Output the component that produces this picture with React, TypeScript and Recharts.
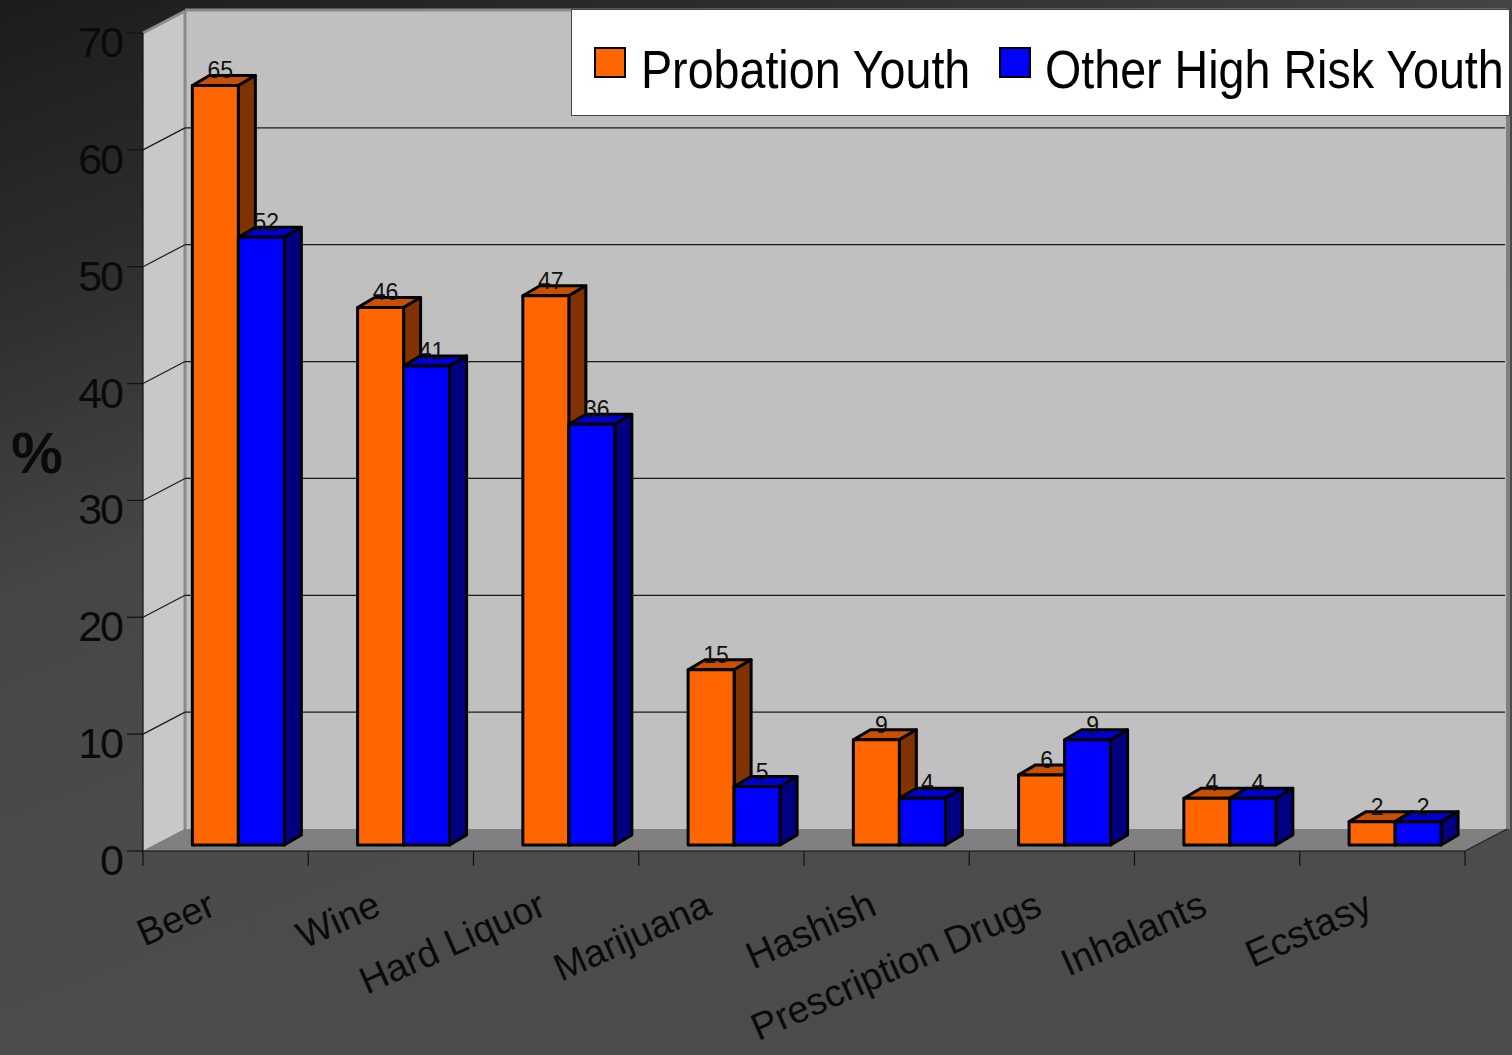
import { BarChart, Bar, XAxis, YAxis, CartesianGrid, LabelList, Label } from "recharts";

const categories = [
  "Beer",
  "Wine",
  "Hard Liquor",
  "Marijuana",
  "Hashish",
  "Prescription Drugs",
  "Inhalants",
  "Ecstasy",
];
const probationYouth = [65, 46, 47, 15, 9, 6, 4, 2];
const otherHighRiskYouth = [52, 41, 36, 5, 4, 9, 4, 2];
const yTicks = [0, 10, 20, 30, 40, 50, 60, 70];
const seriesNames = ["Probation Youth", "Other High Risk Youth"];

const data = categories.map((name, i) => ({
  name,
  probation: probationYouth[i],
  other: otherHighRiskYouth[i],
}));

const W = 1512;
const H = 1055;
const FONT = "'Liberation Sans', Arial, sans-serif";

// 3D look: depth of the walls, where the bars sit in the depth, and bar thickness
const WALL_DX = 42;
const WALL_DY = -22;
const BAR_DX = 13;
const BAR_DY = -6;
const DEPTH_DX = 17;
const DEPTH_DY = -10;

const PLOT_LEFT = 143;
const PLOT_RIGHT = 1465;

function Walls({ x, y, width, height }: any) {
  const b = y + height;
  const r = x + width;
  return (
    <g>
      <polygon
        points={`${x},${y} ${x + WALL_DX},${y + WALL_DY} ${x + WALL_DX},${b + WALL_DY} ${x},${b}`}
        fill="#c8c8c8"
      />
      <rect x={x + WALL_DX} y={y + WALL_DY} width={width} height={height} fill="#c0c0c0" />
      <polygon
        points={`${x},${b} ${x + WALL_DX},${b + WALL_DY} ${r + WALL_DX},${b + WALL_DY} ${r},${b}`}
        fill="#808080"
      />
      <line x1={x + WALL_DX} y1={y + WALL_DY} x2={x + WALL_DX} y2={b + WALL_DY} stroke="#8a8a8a" strokeWidth={3} />
      <line x1={x} y1={y} x2={x + WALL_DX} y2={y + WALL_DY} stroke="#8a8a8a" strokeWidth={3} />
      <line x1={x + WALL_DX} y1={y + WALL_DY - 1} x2={r + WALL_DX} y2={y + WALL_DY - 1} stroke="#8a8a8a" strokeWidth={3} />
      <line x1={r + WALL_DX + 1} y1={y + WALL_DY} x2={r + WALL_DX + 1} y2={b + WALL_DY} stroke="#808080" strokeWidth={4} />
      <line x1={r} y1={b} x2={r + WALL_DX} y2={b + WALL_DY} stroke="#222" strokeWidth={1.2} />
    </g>
  );
}

function GridLine(props: any) {
  const { x, y, width, height, y1, index } = props;
  const bottom = y + height;
  const isEdge = Math.abs(y1 - y) < 0.5 || Math.abs(y1 - bottom) < 0.5;
  return (
    <g key={`grid-${index}`}>
      {index === 0 && <Walls x={x} y={y} width={width} height={height} />}
      {!isEdge && (
        <g stroke="#1a1a1a" strokeWidth={1.2}>
          <line x1={x} y1={y1} x2={x + WALL_DX} y2={y1 + WALL_DY} />
          <line x1={x + WALL_DX} y1={y1 + WALL_DY} x2={x + width + WALL_DX - 2} y2={y1 + WALL_DY} />
        </g>
      )}
    </g>
  );
}

function makeBar3D(front: string, top: string, side: string) {
  return (props: any) => {
    const { x, y, width, height } = props;
    if (!height || height <= 0) return <g />;
    const fx = x + BAR_DX;
    const fy = y + BAR_DY;
    const fr = fx + width;
    const fb = fy + height;
    return (
      <g stroke="#000" strokeWidth={3} strokeLinejoin="round">
        <polygon
          points={`${fx},${fy} ${fx + DEPTH_DX},${fy + DEPTH_DY} ${fr + DEPTH_DX},${fy + DEPTH_DY} ${fr},${fy}`}
          fill={top}
        />
        <polygon
          points={`${fr},${fy} ${fr + DEPTH_DX},${fy + DEPTH_DY} ${fr + DEPTH_DX},${fb + DEPTH_DY} ${fr},${fb}`}
          fill={side}
        />
        <rect x={fx} y={fy} width={width} height={height} fill={front} />
      </g>
    );
  };
}

const OrangeBar = makeBar3D("#ff6600", "#c85000", "#803300");
const BlueBar = makeBar3D("#0000ff", "#0000c8", "#000080");

function ValueLabel(props: any) {
  const vb = props.viewBox || props;
  const x = vb.x ?? props.x;
  const y = vb.y ?? props.y;
  const width = vb.width ?? props.width;
  return (
    <text
      x={x + BAR_DX + width / 2 + 5}
      y={y + BAR_DY - 7}
      textAnchor="middle"
      fontSize={23}
      fill="#111"
      fontFamily={FONT}
    >
      {props.value}
    </text>
  );
}

function YTick(props: any) {
  const { x, y, payload } = props;
  return (
    <text x={x} y={y + 24} textAnchor="end" fontSize={43} fill="#0a0a0a" fontFamily={FONT} letterSpacing={-2}>
      {payload.value}
    </text>
  );
}

function CategoryTick(props: any) {
  const { x, y, payload, index } = props;
  const half = payload?.offset || (PLOT_RIGHT - PLOT_LEFT) / categories.length / 2;
  const ax = x - 8;
  const ay = y + 63;
  return (
    <g>
      <line x1={x - half} y1={y} x2={x - half} y2={y + 15} stroke="#111" strokeWidth={1.2} />
      {index === categories.length - 1 && (
        <line x1={x + half} y1={y} x2={x + half} y2={y + 15} stroke="#111" strokeWidth={1.2} />
      )}
      <text
        x={ax}
        y={ay}
        textAnchor="end"
        transform={`rotate(-24 ${ax} ${ay})`}
        fontSize={38}
        fill="#0a0a0a"
        fontFamily={FONT}
      >
        {payload.value}
      </text>
    </g>
  );
}

function PercentLabel(props: any) {
  const vb = props.viewBox || { x: 63, y: 33, width: 80, height: 818 };
  return (
    <text
      x={vb.x - 26}
      y={vb.y + vb.height / 2 + 31}
      textAnchor="middle"
      fontSize={58}
      fontWeight="bold"
      fill="#0a0a0a"
      fontFamily={FONT}
    >
      %
    </text>
  );
}

function ChartLegend() {
  const swatches = ["#ff6600", "#0000ff"];
  const swatchX = [24, 429];
  const textX = [70, 474];
  return (
    <svg
      width={939}
      height={107}
      style={{ position: "absolute", left: 571, top: 9, background: "#fff", overflow: "hidden" }}
    >
      <rect x={0.5} y={0.5} width={938} height={106} fill="#fff" stroke="#444" strokeWidth={1} />
      {seriesNames.map((name, i) => (
        <g key={name}>
          <rect x={swatchX[i]} y={39} width={30} height={29} fill={swatches[i]} stroke="#000" strokeWidth={2} />
          <text
            transform={`translate(${textX[i]},79) scale(0.88,1)`}
            fontSize={53}
            fill="#000"
            fontFamily={FONT}
          >
            {name}
          </text>
        </g>
      ))}
    </svg>
  );
}

export default function App() {
  return (
    <div
      style={{
        position: "absolute",
        left: 0,
        top: 0,
        width: W,
        height: H,
        overflow: "hidden",
        fontFamily: FONT,
        background:
          "linear-gradient(159deg, #1c1c1c 0%, #2d2d2d 18%, #464646 37%, #4b4b4b 55%, #4c4c4c 100%)",
      }}
    >
      <BarChart
        width={W}
        height={H}
        data={data}
        margin={{ top: 33, right: W - PLOT_RIGHT, bottom: 54, left: PLOT_LEFT - 80 }}
        barCategoryGap="22%"
        barGap={0}
      >
        <CartesianGrid vertical={false} horizontal={GridLine} fill="none" />
        <XAxis
          dataKey="name"
          height={150}
          tickSize={0}
          tickMargin={0}
          interval={0}
          axisLine={{ stroke: "#111", strokeWidth: 1.2 }}
          tickLine={false}
          tick={CategoryTick}
        />
        <YAxis
          type="number"
          domain={[0, 70]}
          ticks={yTicks}
          interval={0}
          width={80}
          tickSize={16}
          tickMargin={5}
          axisLine={{ stroke: "#111", strokeWidth: 1.2 }}
          tickLine={{ stroke: "#111", strokeWidth: 1.2 }}
          tick={YTick}
        >
          <Label content={PercentLabel} />
        </YAxis>
        <Bar dataKey="probation" name={seriesNames[0]} shape={OrangeBar} isAnimationActive={false}>
          <LabelList dataKey="probation" content={ValueLabel} />
        </Bar>
        <Bar dataKey="other" name={seriesNames[1]} shape={BlueBar} isAnimationActive={false}>
          <LabelList dataKey="other" content={ValueLabel} />
        </Bar>
      </BarChart>
      <ChartLegend />
    </div>
  );
}
